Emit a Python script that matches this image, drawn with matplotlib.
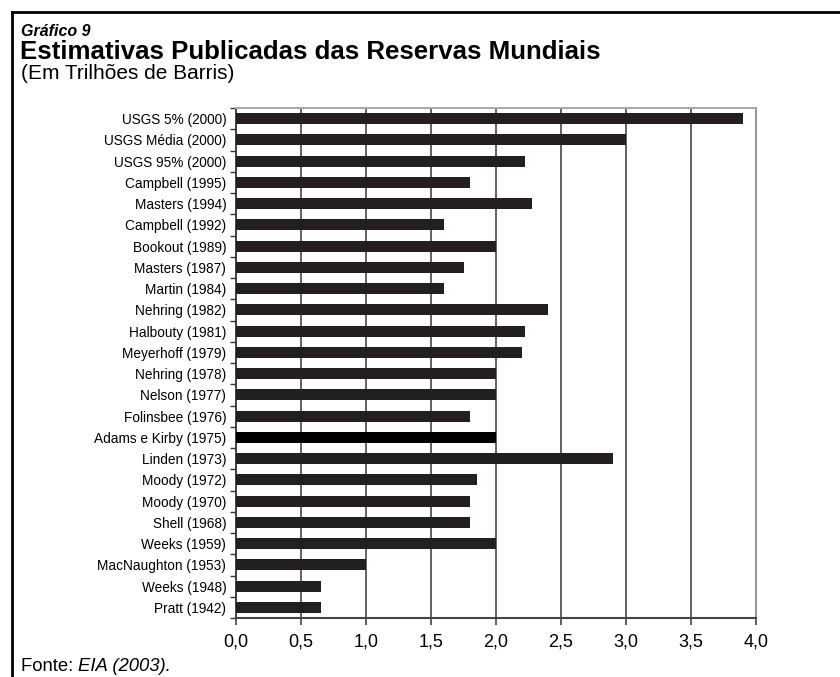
import matplotlib.pyplot as plt
from matplotlib.lines import Line2D
import numpy as np

plt.rcParams['font.family'] = ['Liberation Sans', 'DejaVu Sans']

labels = ["USGS 5% (2000)", "USGS Média (2000)", "USGS 95% (2000)",
          "Campbell (1995)", "Masters (1994)", "Campbell (1992)",
          "Bookout (1989)", "Masters (1987)", "Martin (1984)",
          "Nehring (1982)", "Halbouty (1981)", "Meyerhoff (1979)",
          "Nehring (1978)", "Nelson (1977)", "Folinsbee (1976)",
          "Adams e Kirby (1975)", "Linden (1973)", "Moody (1972)",
          "Moody (1970)", "Shell (1968)", "Weeks (1959)",
          "MacNaughton (1953)", "Weeks (1948)", "Pratt (1942)"]
values = [3.9, 3.0, 2.22, 1.8, 2.28, 1.6, 2.0, 1.75, 1.6, 2.4, 2.22, 2.2,
          2.0, 2.0, 1.8, 2.0, 2.9, 1.85, 1.8, 1.8, 2.0, 1.0, 0.65, 0.65]
xticks = [0.0, 0.5, 1.0, 1.5, 2.0, 2.5, 3.0, 3.5, 4.0]
xticklabels = ["0,0", "0,5", "1,0", "1,5", "2,0", "2,5", "3,0", "3,5", "4,0"]

fig = plt.figure(figsize=(8.4, 6.77), dpi=100)
ax = fig.add_axes([236 / 840, 1 - 618 / 677, 520 / 840, 510 / 677])

pos = np.arange(len(labels))
colors = ['#000000' if l.startswith("Adams") else '#231f20' for l in labels]
ax.barh(pos, values, height=0.52, color=colors, zorder=3)

ax.set_xlim(0, 4)
ax.set_ylim(len(labels) - 0.5, -0.5)
ax.set_xticks(xticks)
ax.set_xticklabels(xticklabels, fontsize=13)
ax.set_yticks(pos)
ax.set_yticklabels(labels, fontsize=9.8)
ax.set_yticks(np.arange(len(labels) + 1) - 0.5, minor=True)
ax.tick_params(axis='y', which='major', length=0, pad=7)
ax.tick_params(axis='y', which='minor', length=4, width=1, color='#333333', direction='out')
ax.tick_params(axis='x', length=5, width=1.2, color='#444444', direction='out', pad=6)

for x in xticks[1:-1]:
    ax.axvline(x, color='#555555', lw=1.3, zorder=1)

ax.spines['left'].set_color('#333333')
ax.spines['left'].set_linewidth(1.3)
ax.spines['bottom'].set_color('#444444')
ax.spines['bottom'].set_linewidth(1.5)
ax.spines['top'].set_color('#aaaaaa')
ax.spines['top'].set_linewidth(1.5)
ax.spines['right'].set_color('#999999')
ax.spines['right'].set_linewidth(1.5)

# outer frame (top and left edges)
fig.add_artist(Line2D([12 / 840, 12 / 840], [0, 1 - 12 / 677], color='black', lw=2,
                      transform=fig.transFigure))
fig.add_artist(Line2D([12 / 840, 1], [1 - 12 / 677, 1 - 12 / 677], color='black', lw=2,
                      transform=fig.transFigure))

fig.text(21 / 840, 1 - 36 / 677, "Gráfico 9", fontsize=11.5, fontweight='bold',
         style='italic', va='baseline')
fig.text(20 / 840, 1 - 59 / 677, "Estimativas Publicadas das Reservas Mundiais",
         fontsize=18.6, fontweight='bold', va='baseline')
fig.text(21 / 840, 1 - 79 / 677, "(Em Trilhões de Barris)", fontsize=15, va='baseline')

t = fig.text(21 / 840, 1 - 671 / 677, "Fonte: ", fontsize=13.3, va='baseline')
fig.canvas.draw()
bb = t.get_window_extent()
fig.text(bb.x1 / 840, 1 - 671 / 677, "EIA (2003).", fontsize=13.3, style='italic',
         va='baseline')

fig.savefig("out.png", dpi=100)
